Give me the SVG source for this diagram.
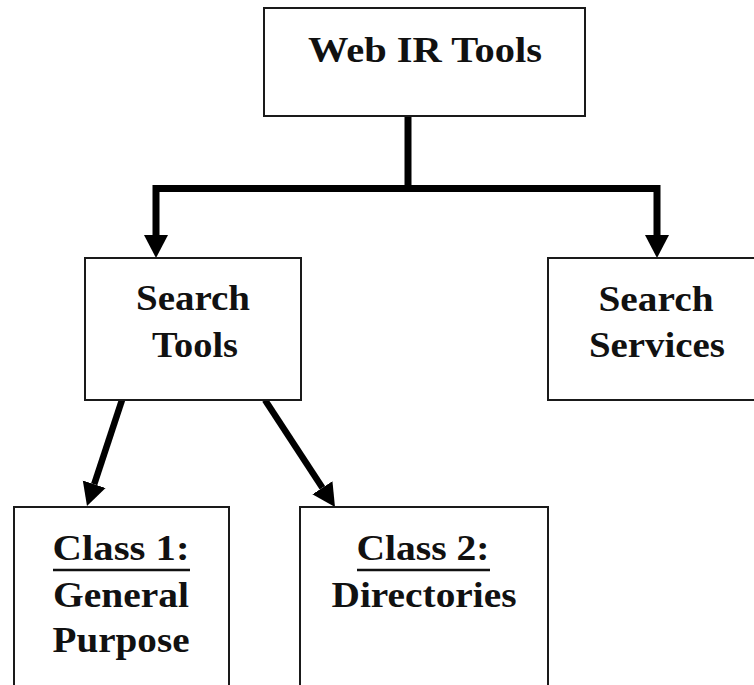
<svg xmlns="http://www.w3.org/2000/svg" width="754" height="685" viewBox="0 0 754 685">
  <style>
    .box { fill: #ffffff; stroke: #1a1a1a; stroke-width: 2; }
    .label { font-family: "Liberation Serif", "Times New Roman", serif; font-weight: bold; font-size: 36px; fill: #111111; text-anchor: middle; }
    .wire { fill: none; stroke: #000000; stroke-width: 7; stroke-linejoin: miter; }
    .diag { fill: none; stroke: #000000; stroke-width: 6.5; }
    .uline { stroke: #111111; stroke-width: 2.5; }
  </style>
  <defs>
    <marker id="head" markerUnits="userSpaceOnUse" markerWidth="26" markerHeight="26" refX="0" refY="13" orient="auto">
      <path d="M0,1 L23,13 L0,25 Z" fill="#000000"/>
    </marker>
  </defs>

  <rect width="754" height="685" fill="#ffffff"/>

  <g id="connectors">
    <path class="wire" d="M408,116 V188.5"/>
    <path class="wire" d="M411,188.5 H156 V235" marker-end="url(#head)"/>
    <path class="wire" d="M405,188.5 H657 V235" marker-end="url(#head)"/>
    <path class="diag" d="M122,400 L94.2,484.2" marker-end="url(#head)"/>
    <path class="diag" d="M265,400 L322.4,487.7" marker-end="url(#head)"/>
  </g>

  <g id="web-ir-tools">
    <rect class="box" x="264" y="8" width="321" height="108"/>
    <text class="label" x="425" y="62" textLength="234" lengthAdjust="spacingAndGlyphs">Web IR Tools</text>
  </g>

  <g id="search-tools">
    <rect class="box" x="85" y="258" width="216" height="142"/>
    <text class="label" x="193" y="310" textLength="114" lengthAdjust="spacingAndGlyphs">Search</text>
    <text class="label" x="195" y="357" textLength="86" lengthAdjust="spacingAndGlyphs">Tools</text>
  </g>

  <g id="search-services">
    <rect class="box" x="548" y="258" width="222" height="142"/>
    <text class="label" x="656" y="311" textLength="115" lengthAdjust="spacingAndGlyphs">Search</text>
    <text class="label" x="657" y="357" textLength="136" lengthAdjust="spacingAndGlyphs">Services</text>
  </g>

  <g id="class-1">
    <rect class="box" x="14" y="507" width="215" height="190"/>
    <text class="label" x="121" y="560" textLength="137" lengthAdjust="spacingAndGlyphs">Class 1:</text>
    <line class="uline" x1="53" y1="570" x2="190" y2="570"/>
    <text class="label" x="121" y="607" textLength="136" lengthAdjust="spacingAndGlyphs">General</text>
    <text class="label" x="121" y="652" textLength="137" lengthAdjust="spacingAndGlyphs">Purpose</text>
  </g>

  <g id="class-2">
    <rect class="box" x="300" y="507" width="248" height="190"/>
    <text class="label" x="423" y="560" textLength="133" lengthAdjust="spacingAndGlyphs">Class 2:</text>
    <line class="uline" x1="357" y1="570" x2="490" y2="570"/>
    <text class="label" x="424" y="607" textLength="185" lengthAdjust="spacingAndGlyphs">Directories</text>
  </g>
</svg>
